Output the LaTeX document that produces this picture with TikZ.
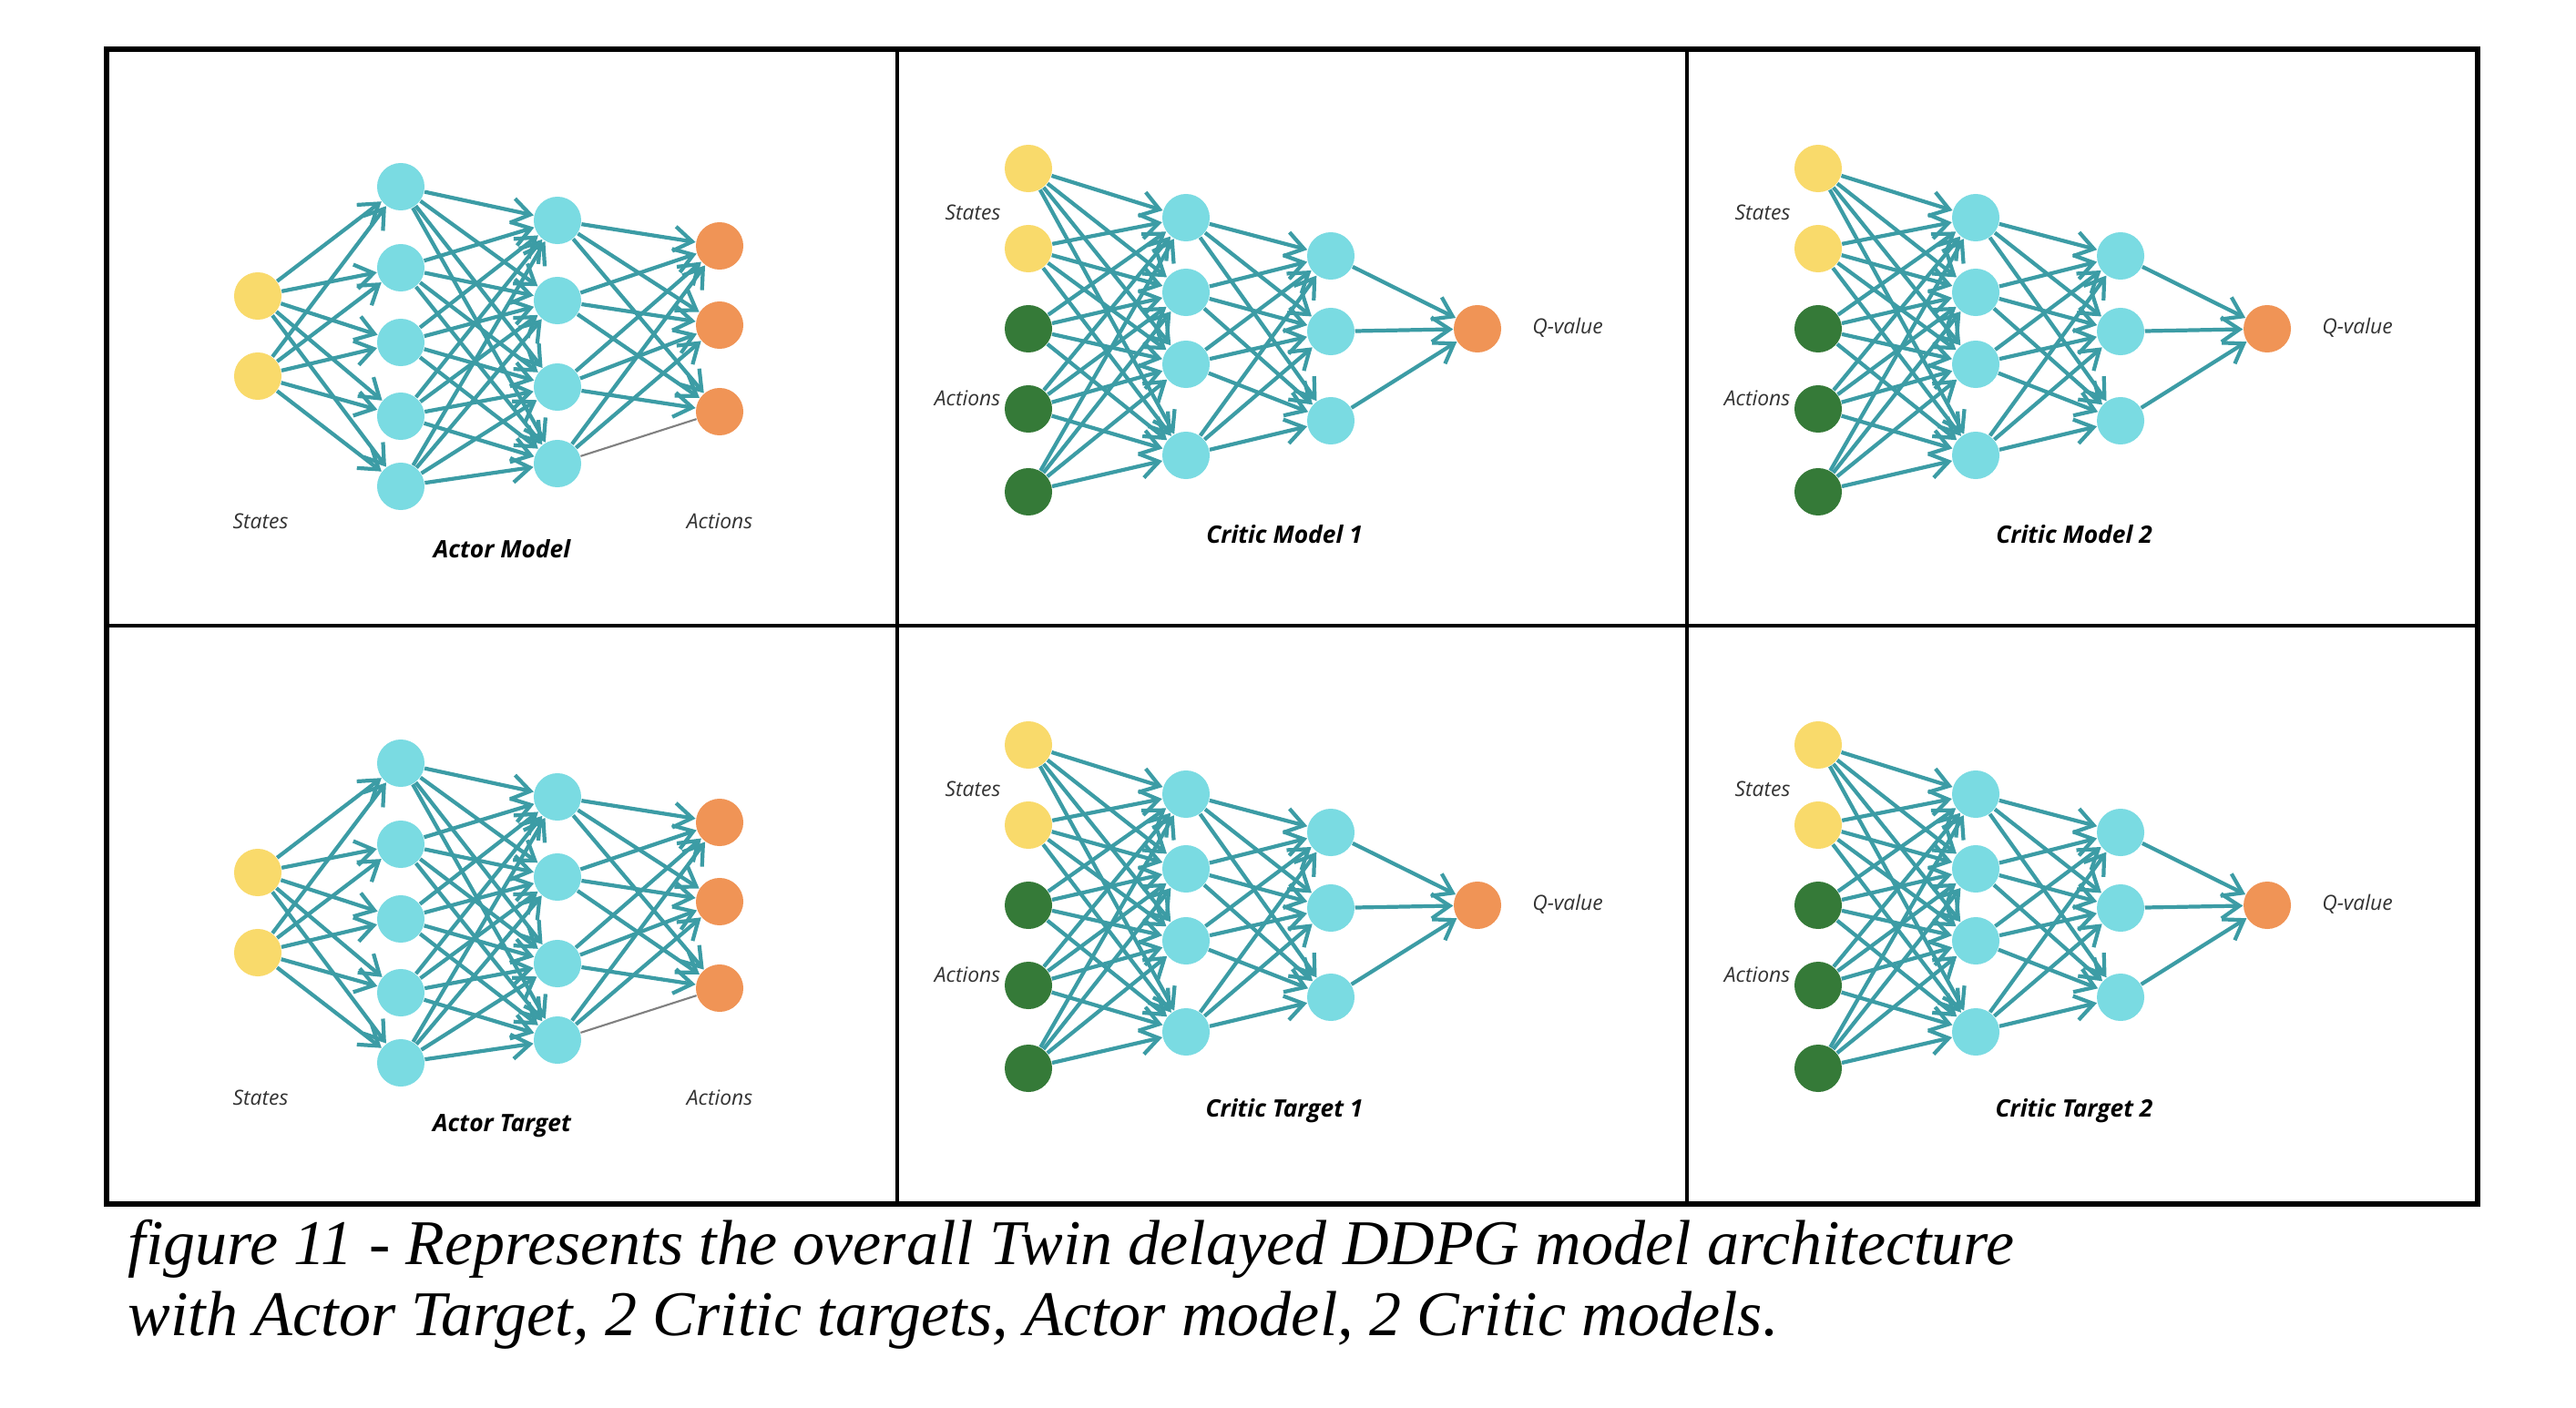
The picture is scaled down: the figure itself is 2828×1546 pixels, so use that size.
\documentclass[tikz,border=0pt]{standalone}
\usepackage{fontspec}
\setmainfont{Liberation Serif}
\newfontfamily\labelfont{Open Sans}
\usetikzlibrary{arrows.meta}

\definecolor{statecol}{HTML}{F9DA6B}
\definecolor{actcol}{HTML}{357A38}
\definecolor{hidcol}{HTML}{7ADBE2}
\definecolor{outcol}{HTML}{F09456}
\definecolor{edgecol}{HTML}{3C9CA5}
\definecolor{labcol}{HTML}{333333}

\tikzset{
    neuron/.style={circle, minimum size=0.52cm, inner sep=0pt},
    statenode/.style={neuron, fill=statecol},
    actnode/.style={neuron, fill=actcol},
    hidnode/.style={neuron, fill=hidcol},
    outnode/.style={neuron, fill=outcol},
    link/.style={draw=edgecol, line width=1.2pt, -{Straight Barb[length=0.2cm, width=0.27cm, line width=1.2pt]}},
    greylink/.style={draw=gray, line width=0.6pt},
    sidelabel/.style={font=\labelfont\itshape\fontsize{6.5}{7}\selectfont, text=labcol},
    netname/.style={font=\labelfont\bfseries\itshape\fontsize{7.5}{9}\selectfont},
    captext/.style={font=\itshape\fontsize{19.9}{23}\selectfont, anchor=base west, inner sep=0pt}
}

% #1 prefix, #2/#3 panel corner, #4 title
\newcommand{\actornet}[4]{
    \begin{scope}[shift={(#2,#3)}]
        \foreach \i/\y in {1/271,2/359}
            \node[statenode] (#1s\i) at (166,\y) {};
        \foreach \i/\y in {1/151,2/240,3/322,4/403,5/480}
            \node[hidnode] (#1h\i) at (323,\y) {};
        \foreach \i/\y in {1/188,2/276,3/371,4/455}
            \node[hidnode] (#1g\i) at (495,\y) {};
        \foreach \i/\y in {1/216,2/303,3/398}
            \node[outnode] (#1o\i) at (673,\y) {};
        \foreach \a in {1,2} \foreach \b in {1,...,5}
            \draw[link] (#1s\a) -- (#1h\b);
        \foreach \a in {1,...,5} \foreach \b in {1,...,4}
            \draw[link] (#1h\a) -- (#1g\b);
        \foreach \a in {1,2,3} \foreach \b in {1,2,3}
            \draw[link] (#1g\a) -- (#1o\b);
        \foreach \b in {1,2}
            \draw[link] (#1g4) -- (#1o\b);
        \draw[greylink] (#1g4) -- (#1o3);
        \node[sidelabel] (#1ls) at (169,518) {States};
        \node[sidelabel] (#1la) at (673,518) {Actions};
        \node[netname] (#1t) at (434,549) {#4};
    \end{scope}
}

\newcommand{\criticnet}[4]{
    \begin{scope}[shift={(#2,#3)}]
        \foreach \i/\y in {1/131,2/219}
            \node[statenode] (#1s\i) at (144,\y) {};
        \foreach \i/\y in {1/307,2/395,3/486}
            \node[actnode] (#1a\i) at (144,\y) {};
        \foreach \i/\y in {1/185,2/267,3/346,4/446}
            \node[hidnode] (#1h\i) at (317,\y) {};
        \foreach \i/\y in {1/227,2/310,3/408}
            \node[hidnode] (#1g\i) at (476,\y) {};
        \node[outnode] (#1q) at (637,307) {};
        \foreach \a in {s1,s2,a1,a2,a3} \foreach \b in {1,...,4}
            \draw[link] (#1\a) -- (#1h\b);
        \foreach \a in {1,...,4} \foreach \b in {1,2,3}
            \draw[link] (#1h\a) -- (#1g\b);
        \foreach \a in {1,2,3}
            \draw[link] (#1g\a) -- (#1q);
        \node[sidelabel] (#1ls) at (83,179) {States};
        \node[sidelabel] (#1la) at (77,383) {Actions};
        \node[sidelabel] (#1lq) at (736,306) {Q-value};
        \node[netname] (#1t) at (425,533) {#4};
    \end{scope}
}

\begin{document}
\begin{tikzpicture}[x=0.01cm, y=-0.01cm]
    \useasboundingbox[fill=white] (0,0) rectangle (2828,1546);
    \draw[line width=1.5pt] (117,54) rectangle (2720,1322);
    \draw[line width=1pt] (985,54) -- (985,1322) (1852,54) -- (1852,1322) (117,687) -- (2720,687);

    \actornet{am}{117}{54}{Actor Model}
    \criticnet{ca}{985}{54}{Critic Model 1}
    \criticnet{cb}{1852}{54}{Critic Model 2}
    \actornet{at}{117}{687}{Actor Target}
    \criticnet{ta}{985}{687}{Critic Target 1}
    \criticnet{tb}{1852}{687}{Critic Target 2}

    \node[captext] (cap1) at (140,1388) {figure 11 - Represents the overall Twin delayed DDPG model architecture};
    \node[captext] (cap2) at (140,1466) {with Actor Target, 2 Critic targets, Actor model, 2 Critic models.};
\end{tikzpicture}
\end{document}
